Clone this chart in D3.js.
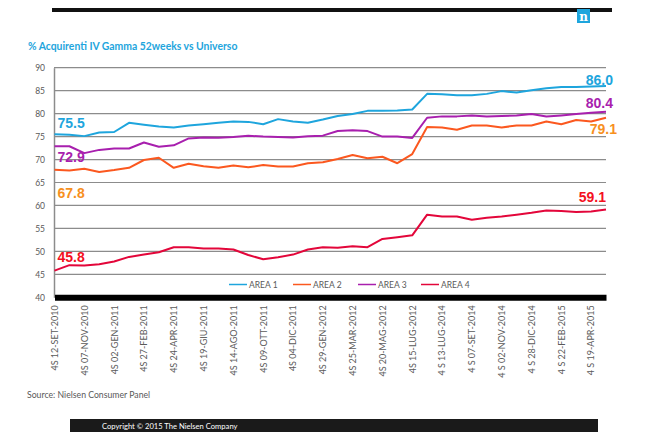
<!DOCTYPE html>
<html><head><meta charset="utf-8">
<script src="https://cdn.jsdelivr.net/npm/d3@7"></script>
<style>
html,body{margin:0;padding:0;background:#fff;}
svg{display:block;}
</style></head>
<body>
<svg id="chart" width="650" height="437"></svg>
<script>
const categories = [
 "4S 12-SET-2010","4S 10-OTT-2010","4S 07-NOV-2010","4S 05-DIC-2010","4S 02-GEN-2011","4S 30-GEN-2011",
 "4S 27-FEB-2011","4S 27-MAR-2011","4S 24-APR-2011","4S 22-MAG-2011","4S 19-GIU-2011","4S 17-LUG-2011",
 "4S 14-AGO-2011","4S 11-SET-2011","4S 09-OTT-2011","4S 06-NOV-2011","4S 04-DIC-2011","4S 01-GEN-2012",
 "4S 29-GEN-2012","4S 26-FEB-2012","4S 25-MAR-2012","4S 22-APR-2012","4S 20-MAG-2012","4S 17-GIU-2012",
 "4S 15-LUG-2012","4 S 15-GIU-2014","4 S 13-LUG-2014","4 S 10-AGO-2014","4 S 07-SET-2014","4 S 05-OTT-2014",
 "4 S 02-NOV-2014","4 S 30-NOV-2014","4 S 28-DIC-2014","4 S 25-GEN-2015","4 S 22-FEB-2015","4 S 22-MAR-2015",
 "4 S 19-APR-2015","4 S 17-MAG-2015"
];
const area1 = [75.5,75.4,75.1,75.9,76.0,78.0,77.6,77.2,77.0,77.4,77.7,78.0,78.3,78.2,77.7,78.8,78.3,78.0,78.7,
 79.5,79.9,80.6,80.6,80.7,80.9,84.3,84.2,84.0,84.0,84.3,84.9,84.6,85.1,85.5,85.8,85.8,85.9,86.0];
const area2 = [67.8,67.6,68.0,67.3,67.7,68.2,69.9,70.4,68.2,69.1,68.55,68.2,68.7,68.3,68.8,68.5,68.5,69.2,69.4,
 70.1,71.0,70.3,70.6,69.2,71.2,77.1,77.0,76.5,77.4,77.4,77.0,77.4,77.4,78.3,77.7,78.6,78.3,79.1];
const area3 = [72.9,72.9,71.4,72.1,72.4,72.4,73.7,72.8,73.1,74.6,74.8,74.75,74.9,75.2,75.0,74.9,74.8,75.05,75.2,
 76.2,76.4,76.2,75.0,75.0,74.7,79.1,79.4,79.4,79.6,79.35,79.5,79.6,79.9,79.35,79.6,79.9,80.2,80.4];
const area4 = [45.8,47.0,46.9,47.2,47.8,48.8,49.3,49.8,50.9,50.9,50.65,50.65,50.4,49.2,48.3,48.7,49.3,50.4,50.9,
 50.8,51.1,50.9,52.7,53.1,53.5,58.0,57.6,57.6,56.9,57.3,57.6,58.0,58.4,58.9,58.8,58.6,58.7,59.1];
const seriesNames = ["AREA 1","AREA 2","AREA 3","AREA 4"];
const yTicks = [40,45,50,55,60,65,70,75,80,85,90];
const title = "% Acquirenti IV Gamma 52weeks vs Universo";
const sourceText = "Source: Nielsen Consumer Panel";
const copyrightText = "Copyright \u00A9 2015 The Nielsen Company";

const lineColors = ["#1ea5dd","#fb581f","#a81fae","#e3063a"];
const labelColors = ["#1ea5dd","#f7901e","#a81fae","#f4101e"];
const seriesData = [area1, area2, area3, area4];

const svg = d3.select("#chart");
const cal = "Lato, 'Open Sans', sans-serif";

const x = d3.scalePoint().domain(categories).range([54.5, 606]);
const y = d3.scaleLinear().domain([40, 90]).range([297.3, 67.7]);

// top bar + logo
svg.append("rect").attr("x",52).attr("y",8).attr("width",560).attr("height",4).attr("fill","#111");
svg.append("rect").attr("x",577).attr("y",9).attr("width",13).attr("height",14).attr("fill","#1ea5dd");
svg.append("text").attr("x",583.5).attr("y",21).attr("text-anchor","middle").attr("fill","#fff")
  .attr("font-family","'DejaVu Serif', serif").attr("font-weight","bold").attr("font-size",12).text("n");

// title
svg.append("text").attr("x",28).attr("y",50).attr("fill","#1ea5dd").attr("font-family",cal)
  .attr("font-weight","bold").attr("font-size",10.4).text(title);

// gridlines
svg.append("g").selectAll("line").data(yTicks.filter(d => d > 40)).join("line")
  .attr("x1",54).attr("x2",606).attr("y1",d=>y(d)).attr("y2",d=>y(d))
  .attr("stroke","#8c8c8c").attr("stroke-width",1.2);

// y axis
const yAxis = svg.append("g").attr("transform","translate(54,0)")
  .call(d3.axisLeft(y).tickValues(yTicks).tickSize(0).tickPadding(9));
yAxis.select(".domain").attr("stroke","#8c8c8c").attr("stroke-width",1.5);
yAxis.selectAll("text").attr("font-family",cal).attr("font-size",8.5).attr("fill","#595959");

// x axis (thick black bar)
const xAxis = svg.append("g").attr("transform",`translate(0,${y(40)})`)
  .call(d3.axisBottom(x).tickValues(categories.filter((d,i)=>i%2===0)).tickSize(0).tickSizeOuter(0));
xAxis.select(".domain").attr("stroke","#000").attr("stroke-width",6);
xAxis.selectAll("text").attr("font-family",cal).attr("font-size",9).attr("fill","#5a5a5a")
  .attr("transform","rotate(-90)").attr("text-anchor","end").attr("x",-8).attr("y",0).attr("dy","0.32em");

// lines
const line = d3.line().x((d,i)=>x(categories[i])).y(d=>y(d));
svg.append("g").selectAll("path").data(seriesData).join("path")
  .attr("d", d=>line(d)).attr("fill","none").attr("stroke",(d,i)=>lineColors[i])
  .attr("stroke-width",2).attr("stroke-linejoin","round");

// value labels (first and last)
const lab = svg.append("g").attr("font-family","'Liberation Sans', Arial, sans-serif")
  .attr("font-weight","bold").attr("font-size",14);
const first = x(categories[0]), last = x(categories[categories.length-1]);
const firstOff = [-6, 28, 16, -8.7];
seriesData.forEach((s,i)=>{
  lab.append("text").attr("x",first+3).attr("y",y(s[0])+firstOff[i]).attr("fill",labelColors[i]).text(s[0].toFixed(1));
});
const lastOff = [[7,-1],[11,16.6],[7,-4],[0,-8]];
seriesData.forEach((s,i)=>{
  const v = s[s.length-1];
  lab.append("text").attr("x",last+lastOff[i][0]).attr("y",y(v)+lastOff[i][1]).attr("text-anchor","end")
    .attr("fill",labelColors[i]).text(v.toFixed(1));
});

// legend
const legX = [229, 293, 358, 421];
const leg = svg.append("g").attr("font-family",cal).attr("font-size",8.5).attr("fill","#595959");
seriesNames.forEach((n,i)=>{
  leg.append("line").attr("x1",legX[i]).attr("x2",legX[i]+18).attr("y1",284.5).attr("y2",284.5)
    .attr("stroke",lineColors[i]).attr("stroke-width",1.5);
  leg.append("text").attr("x",legX[i]+20).attr("y",287.5).text(n);
});

// source
svg.append("text").attr("x",27).attr("y",398).attr("font-family",cal).attr("font-size",8.7)
  .attr("fill","#595959").text(sourceText);

// copyright bar
svg.append("rect").attr("x",70).attr("y",419).attr("width",528).attr("height",13).attr("fill","#1a1a1a");
svg.append("text").attr("x",102).attr("y",428.5).attr("font-family",cal).attr("font-size",7.6)
  .attr("fill","#fff").text(copyrightText);
</script>
</body></html>
